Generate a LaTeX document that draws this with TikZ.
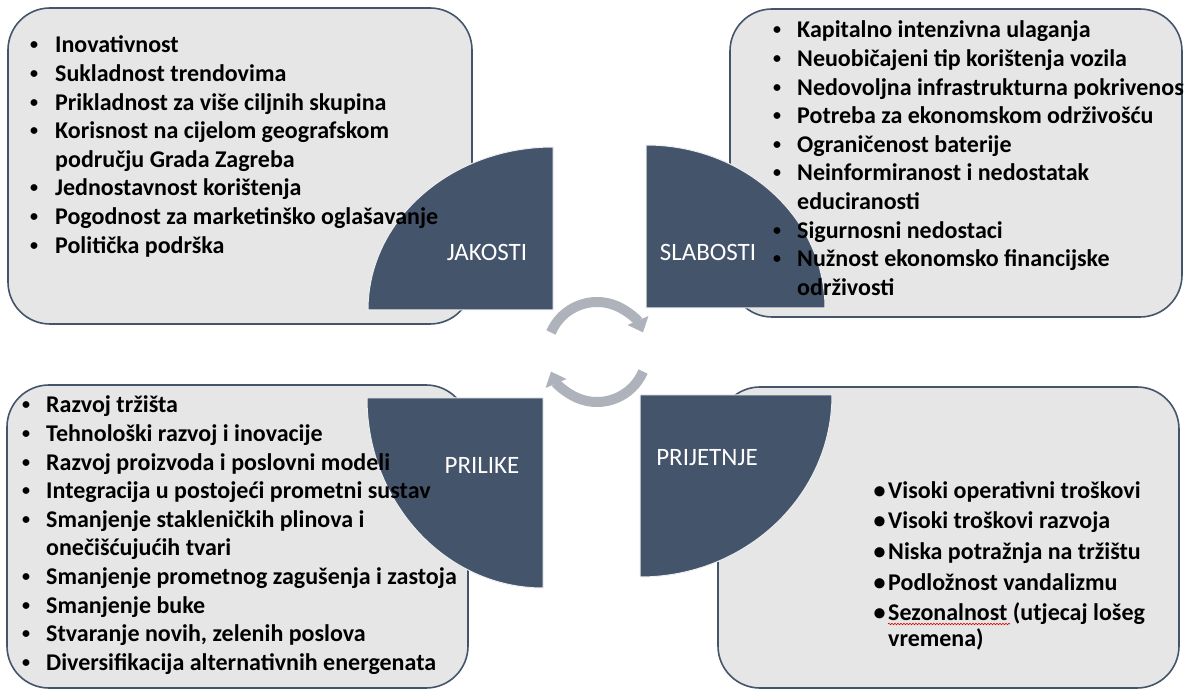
\documentclass[tikz,border=0pt]{standalone}
\usepackage{fontspec}
\setmainfont{Carlito}
\usetikzlibrary{arrows.meta,decorations.pathmorphing}
\definecolor{slate}{HTML}{44546A}
\definecolor{boxgray}{HTML}{E6E6E6}
\definecolor{arrgray}{HTML}{AEB3BB}
\newcommand{\blt}[1][24pt]{\makebox[#1][l]{\raisebox{3pt}{\fontsize{16}{16}\selectfont•}}}
\newcommand{\bigblt}{\makebox[14.5pt][l]{•}}

\begin{document}
\begin{tikzpicture}[x=1pt, y=1pt,
  swotbox/.style={draw=slate, line width=1.6pt, fill=boxgray, rounded corners=42pt},
  quarter/.style={fill=slate, draw=white!90!slate, line width=1pt},
  qlabel/.style={text=white, inner sep=0pt, font=\fontsize{25}{30}\selectfont},
  itemlist/.style={anchor=base west, inner sep=0pt, font=\bfseries\fontsize{24}{28.6}\selectfont},
  cyclearrow/.style={draw=arrgray, line width=10pt, -{Triangle[width=22pt,length=13pt]}}]
\useasboundingbox (0,0) rectangle (1184,689);
% ---------- okviri ----------
\draw[swotbox] (8,365) rectangle (472,681);
\draw[swotbox] (730,372) rectangle (1182,680);
\draw[swotbox] (7,1) rectangle (468,304);
\draw[swotbox] (718,1) rectangle (1179,302);
% ---------- četvrtine kruga ----------
\draw[quarter] (553,379) -- (368,379) arc[start angle=180, end angle=90, x radius=185, y radius=163] -- cycle;
\draw[quarter] (646,381) -- (825,381) arc[start angle=0, end angle=90, x radius=179, y radius=163] -- cycle;
\draw[quarter] (543,291) -- (367,291) arc[start angle=180, end angle=270, x radius=176, y radius=190] -- cycle;
\draw[quarter] (640,294) -- (832,294) arc[start angle=0, end angle=-90, x radius=192, y radius=182] -- cycle;
\node[qlabel] (jak)  at (487,437) {JAKOSTI};
\node[qlabel] (slab) at (708,437) {SLABOSTI};
\node[qlabel] (pril) at (482,224) {PRILIKE};
\node[qlabel] (prij) at (707,231) {PRIJETNJE};
% ---------- kružne strelice ----------
\coordinate (hub) at (597,337);
\draw[cyclearrow] ([shift={(157:50)}]hub) arc[start angle=157, end angle=23, radius=50];
\draw[cyclearrow] ([shift={(-23:50)}]hub) arc[start angle=-23, end angle=-157, radius=50];
% ---------- popisi ----------
\node[itemlist] (jaktext) at (30,636) {\begin{tabular}[t]{@{}l@{}}
\blt[25pt]Inovativnost\\
\blt[25pt]Sukladnost trendovima\\
\blt[25pt]Prikladnost za više ciljnih skupina\\
\blt[25pt]Korisnost na cijelom geografskom\\
\hspace*{25pt}području Grada Zagreba\\
\blt[25pt]Jednostavnost korištenja\\
\blt[25pt]Pogodnost za marketinško oglašavanje\\
\blt[25pt]Politička podrška
\end{tabular}};
\node[itemlist] (slabtext) at (773,651) {\begin{tabular}[t]{@{}l@{}}
\blt Kapitalno intenzivna ulaganja\\
\blt Neuobičajeni tip korištenja vozila\\
\blt Nedovoljna infrastrukturna pokrivenost\\
\blt Potreba za ekonomskom održivošću\\
\blt Ograničenost baterije\\
\blt Neinformiranost i nedostatak\\
\hspace*{24pt}educiranosti\\
\blt Sigurnosni nedostaci\\
\blt Nužnost ekonomsko financijske\\
\hspace*{24pt}održivosti
\end{tabular}};
\node[itemlist] (priltext) at (22,276) {\begin{tabular}[t]{@{}l@{}}
\blt Razvoj tržišta\\
\blt Tehnološki razvoj i inovacije\\
\blt Razvoj proizvoda i poslovni modeli\\
\blt Integracija u postojeći prometni sustav\\
\blt Smanjenje stakleničkih plinova i\\
\hspace*{24pt}onečišćujućih tvari\\
\blt Smanjenje prometnog zagušenja i zastoja\\
\blt Smanjenje buke\\
\blt Stvaranje novih, zelenih poslova\\
\blt Diversifikacija alternativnih energenata
\end{tabular}};
\node[itemlist, font=\bfseries\fontsize{24}{26}\selectfont] (prijtext) at (873.5,191) {\begin{tabular}[t]{@{}l@{}}
\bigblt Visoki operativni troškovi\\[4.7pt]
\bigblt Visoki troškovi razvoja\\[4.7pt]
\bigblt Niska potražnja na tržištu\\[4.7pt]
\bigblt Podložnost vandalizmu\\[4.7pt]
\bigblt Sezonalnost (utjecaj lošeg\\
\hspace*{14.5pt}vremena)
\end{tabular}};
% pravopisna oznaka
\draw[red!85!black, line width=0.6pt, decorate, decoration={snake, amplitude=0.8pt, segment length=3pt}] (888,65) -- (1010,65);
\end{tikzpicture}
\end{document}
